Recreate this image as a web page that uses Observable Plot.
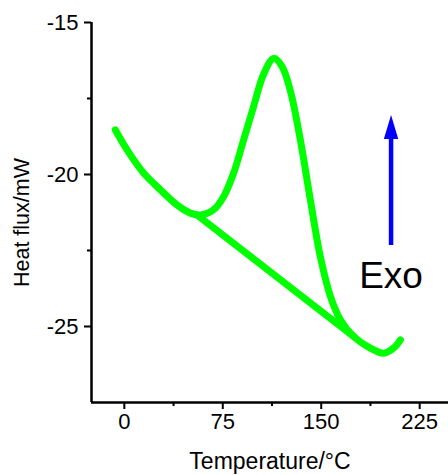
<!DOCTYPE html>
<html>
<head>
<meta charset="utf-8">
<script src="https://cdn.jsdelivr.net/npm/d3@7"></script>
<script src="https://cdn.jsdelivr.net/npm/@observablehq/plot@0.6"></script>
<style>
  html, body { margin: 0; padding: 0; background: #fff; }
  #chart svg { display: block; }
</style>
</head>
<body>
<div id="chart"></div>
<script>
// DSC curve (temperature °C, heat flux mW)
const curveT = [-6.9, 2.1, 14.7, 27.4, 40.1, 50.3, 57.9, 68.0, 75.7, 83.3, 90.9, 98.5, 106.1, 113.8, 120.2, 126.5, 134.1, 141.7, 149.3, 157.0, 164.6, 174.7, 187.4, 197.5, 205.2, 210.3];
const curveQ = [-18.53, -19.19, -19.95, -20.50, -21.0, -21.27, -21.33, -21.16, -20.72, -19.95, -18.86, -17.76, -16.70, -16.18, -16.45, -17.25, -18.86, -20.83, -22.70, -24.01, -24.78, -25.33, -25.71, -25.88, -25.71, -25.44];
// baseline segment
const baseT = [55.4, 174.7];
const baseQ = [-21.33, -25.33];
// axis ticks
const xMajor = [0, 75, 150, 225];
const xMinor = [37.5, 112.5, 187.5];
const yMajor = [-15, -20, -25];
const yMinor = [-17.5, -22.5];
const xDomain = [-25, 250];
const yDomain = [-27.5, -15];
// annotation
const arrowT = [203.2];
const arrowTip = [-18.04];
const arrowBase = [-22.32];
const exoLabel = ["Exo"];
const exoQ = [-23.35];
const xLabel = "Temperature/°C";
const yLabel = "Heat flux/mW";

const curve = curveT.map((t, i) => ({t, q: curveQ[i]}));
const base = baseT.map((t, i) => ({t, q: baseQ[i]}));
const arrow = arrowT.map((t, i) => ({t, tip: arrowTip[i], base: arrowBase[i], neck: arrowTip[i] - 0.5}));
const exo = exoLabel.map((s, i) => ({s, t: arrowT[i], q: exoQ[i]}));

const headSymbol = {
  draw(context) {
    context.moveTo(0, 0);
    context.lineTo(7.2, 24);
    context.lineTo(-7.2, 24);
    context.closePath();
  }
};

const green = "#00ff00";
const font = "Liberation Sans, Arial, sans-serif";

const plot = Plot.plot({
  width: 448,
  height: 475,
  marginTop: 22,
  marginBottom: 73,
  marginLeft: 91,
  marginRight: 0,
  style: {fontFamily: font, fontSize: "22px", color: "#000", background: "#fff", overflow: "hidden"},
  x: {domain: xDomain, range: [91, 452]},
  y: {domain: yDomain},
  marks: [
    Plot.axisX({ticks: xMinor, tickSize: 4, tickFormat: () => "", strokeWidth: 2, label: null}),
    Plot.axisX({ticks: xMajor, tickSize: 7, tickPadding: 4, tickFormat: d => String(d), strokeWidth: 2, fontSize: 22, label: null}),
    Plot.axisY({ticks: yMinor, tickSize: 4, tickFormat: () => "", strokeWidth: 2, label: null}),
    Plot.axisY({ticks: yMajor, tickSize: 7, tickPadding: 6, tickFormat: d => String(d), strokeWidth: 2, fontSize: 22, label: null}),
    Plot.ruleX([xDomain[0]], {stroke: "#000", strokeWidth: 2.5}),
    Plot.ruleY([yDomain[0]], {stroke: "#000", strokeWidth: 2.5}),
    Plot.line(base, {x: "t", y: "q", stroke: green, strokeWidth: 7, strokeLinecap: "round"}),
    Plot.line(curve, {x: "t", y: "q", stroke: green, strokeWidth: 7, curve: "catmull-rom", strokeLinecap: "round", strokeLinejoin: "round"}),
    Plot.link(arrow, {x1: "t", x2: "t", y1: "base", y2: "neck", stroke: "#0000ff", strokeWidth: 4.5}),
    Plot.dot(arrow, {x: "t", y: "tip", symbol: headSymbol, fill: "#0000ff", stroke: "none"}),
    Plot.text(exo, {x: "t", y: "q", text: "s", fontSize: 37, fill: "#000"}),
    Plot.text([xLabel], {frameAnchor: "bottom", dy: 66, fontSize: 23, fill: "#000"}),
    Plot.text([yLabel], {frameAnchor: "left", textAnchor: "middle", dx: -69, dy: 10, rotate: -90, fontSize: 21.5, fill: "#000"})
  ]
});
document.getElementById("chart").appendChild(plot);
</script>
</body>
</html>
